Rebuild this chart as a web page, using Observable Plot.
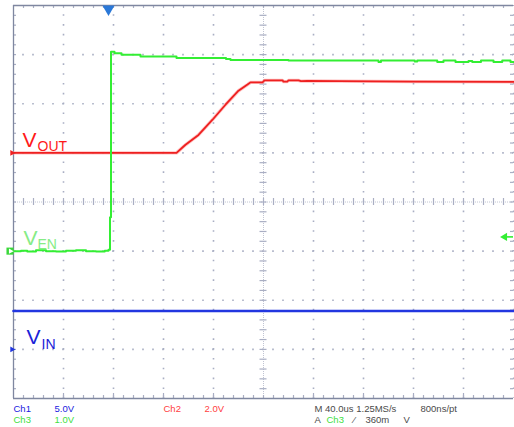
<!DOCTYPE html>
<html>
<head>
<meta charset="utf-8">
<script src="https://cdn.jsdelivr.net/npm/d3@7"></script>
<script src="https://cdn.jsdelivr.net/npm/@observablehq/plot@0.6"></script>
<style>
  html, body { margin: 0; padding: 0; background: #fff; }
  #chart svg { display: block; }
</style>
</head>
<body>
<div id="chart"></div>
<script>
// ---- Data (time in µs, 40 µs/div, voltages in V) ----
// Ch3 (V_EN), 1 V/div, ground at -1 div
const enTime = [-200, -194, -189, -182, -174, -166, -158, -150, -142, -134, -127, -124, -122.8, -122, -121.6, -119.2, -113.6, -99.2, -98.4, -70.4, -69.6, -34.4, -30, -26.4, 20, 92, 94, 121, 123, 139, 144, 153.6, 164, 167, 174, 184, 191, 197.6, 200];
const enVolt = [0.00, 0.01, -0.01, 0.02, 0.00, -0.01, 0.01, 0.02, 0.00, -0.01, 0.01, 0.03, 0.69, 4.06, 4.06, 4.03, 4.00, 4.00, 3.96, 3.96, 3.93, 3.93, 3.91, 3.89, 3.88, 3.85, 3.88, 3.86, 3.88, 3.85, 3.88, 3.85, 3.87, 3.85, 3.88, 3.85, 3.88, 3.85, 3.85];
// Ch2 (V_OUT), 2 V/div, ground at +1 div
const outTime = [-200, -69.6, -62.4, -52, -40.8, -30.4, -20, -12.8, -10.4, -0.8, 0.8, 15.2, 16, 19, 20, 28, 30, 35, 60, 120, 200];
const outVolt = [0.00, 0.00, 0.33, 0.73, 1.35, 1.96, 2.53, 2.78, 2.87, 2.87, 2.95, 2.95, 2.90, 2.90, 2.95, 2.95, 2.92, 2.93, 2.92, 2.90, 2.89];
// Ch1 (V_IN), 5 V/div, ground at -3 div
const inTime = [-200, 200];
const inVolt = [3.9, 3.9];

// channel settings: volts per division and ground offset (div)
const chScale = {ch1: 5, ch2: 2, ch3: 1};
const chGround = {ch1: -3, ch2: 1, ch3: -1};
const trigTime = -124;      // µs
const trigLevel = 0.29;     // V on Ch3

const toDiv = (ch, v) => chGround[ch] + v / chScale[ch];
const en = enTime.map((t, i) => ({t, y: toDiv("ch3", enVolt[i])}));
const out = outTime.map((t, i) => ({t, y: toDiv("ch2", outVolt[i])}));
const vin = inTime.map((t, i) => ({t, y: toDiv("ch1", inVolt[i])}));

// ---- grid helpers ----
const gridC = "#a9aec3";
const majorX = d3.range(-160, 161, 40).filter(v => v !== 0);
const majorY = d3.range(-3, 4, 1).filter(v => v !== 0);
const minorX = d3.range(-192, 193, 8);
const minorY = d3.range(-3.8, 3.81, 0.2).map(v => +v.toFixed(2));
const pxX = 0.8, pxY = 1 / 49.1;

const green = "#33ee33", red = "#ee2020", blue = "#2236e0";

const chart = Plot.plot({
  width: 514,
  height: 427,
  marginLeft: 13,
  marginRight: 1,
  marginTop: 5,
  marginBottom: 29,
  x: {domain: [-200, 200], axis: null},
  y: {domain: [-4, 4], axis: null},
  style: {background: "#fff", fontFamily: "Liberation Sans, Arial, sans-serif"},
  marks: [
    // dotted major grid
    Plot.ruleX(majorX, {y1: -4, y2: 4, stroke: gridC, strokeWidth: 1.6, strokeDasharray: "1.6,8.22", strokeDashoffset: 0.8}),
    Plot.ruleY(majorY, {x1: -200, x2: 200, stroke: gridC, strokeWidth: 1.6, strokeDasharray: "1.6,8.4", strokeDashoffset: 0.8}),
    // center axes
    Plot.ruleX([0], {y1: -4, y2: 4, stroke: "#c0c4d2", strokeWidth: 1, strokeDasharray: "1,1"}),
    Plot.ruleY([0], {x1: -200, x2: 200, stroke: "#c0c4d2", strokeWidth: 1, strokeDasharray: "1,1"}),
    Plot.ruleX(minorX, {y1: -3.5 * pxY, y2: 3.5 * pxY, stroke: gridC, strokeWidth: 1.2}),
    Plot.ruleY(minorY, {x1: -3.5 * pxX, x2: 3.5 * pxX, stroke: gridC, strokeWidth: 1.2}),
    // border ticks
    Plot.ruleX(minorX, {y1: 4, y2: 4 - 3 * pxY, stroke: gridC, strokeWidth: 1.2}),
    Plot.ruleX(minorX, {y1: -4, y2: -4 + 3 * pxY, stroke: gridC, strokeWidth: 1.2}),
    Plot.ruleX(majorX, {y1: -4, y2: -4 + 5 * pxY, stroke: gridC, strokeWidth: 1.2}),
    Plot.ruleY(minorY, {x1: -200, x2: -200 + 3 * pxX, stroke: gridC, strokeWidth: 1.2}),
    Plot.ruleY(minorY, {x1: 200 - 3 * pxX, x2: 200, stroke: gridC, strokeWidth: 1.2}),
    Plot.ruleX([200], {y1: -4, y2: 4, stroke: gridC, strokeWidth: 1.2, strokeDasharray: "1.6,8.22", strokeDashoffset: 0.8}),
    // solid border lines
    Plot.ruleY([4, -4], {x1: -200, x2: 200, stroke: "#7f87a0", strokeWidth: 1.3}),
    Plot.ruleX([-200], {y1: -4, y2: 4, stroke: "#7f87a0", strokeWidth: 1.3}),

    // traces
    Plot.line(vin, {x: "t", y: "y", stroke: blue, strokeWidth: 2.6}),
    Plot.line(out, {x: "t", y: "y", stroke: "#ff9a9a", strokeWidth: 3.4, strokeOpacity: 0.6}),
    Plot.line(out, {x: "t", y: "y", stroke: red, strokeWidth: 1.8}),
    Plot.line(en, {x: "t", y: "y", stroke: green, strokeWidth: 2, curve: "step-after"}),

    // markers: trigger position (top), trigger level (right), ground markers (left)
    Plot.dot([trigTime], {x: d => d, y: 4, dy: 3.5, symbol: "triangle", rotate: 180, r: 4.5, fill: "#2a78d8", stroke: null}),
    Plot.ruleY([toDiv("ch3", trigLevel)], {x1: 193, x2: 200, stroke: green, strokeWidth: 1.6}),
    Plot.dot([toDiv("ch3", trigLevel)], {x: 193, y: d => d, symbol: "triangle", rotate: -90, r: 3, fill: green, stroke: null}),
    Plot.dot([chGround.ch2], {x: -200, y: d => d, dx: -1.5, symbol: "triangle", rotate: 90, r: 2.2, fill: red, stroke: null}),
    Plot.dot([chGround.ch1], {x: -200, y: d => d, dx: -1.5, symbol: "triangle", rotate: 90, r: 2.2, fill: blue, stroke: null}),
    Plot.dot([chGround.ch3], {x: -200, y: d => d, dx: -3.5, symbol: "square", r: 4, fill: "#3ad83a", stroke: null}),
    Plot.dot([chGround.ch3], {x: -200, y: d => d, dx: -3, symbol: "triangle", rotate: 90, r: 2, fill: "#fff", stroke: null}),

    // channel labels
    Plot.text(["V"], {x: -192.8, y: 1.122, text: d => d, textAnchor: "start", lineAnchor: "bottom", fontSize: 21, fill: "#ff1a1a"}),
    Plot.text(["OUT"], {x: -180.8, y: 1.041, text: d => d, textAnchor: "start", lineAnchor: "bottom", fontSize: 14, fill: "#ff1a1a"}),
    Plot.text(["V"], {x: -192, y: -0.878, text: d => d, textAnchor: "start", lineAnchor: "bottom", fontSize: 21, fill: "#86ec86"}),
    Plot.text(["EN"], {x: -180.8, y: -0.959, text: d => d, textAnchor: "start", lineAnchor: "bottom", fontSize: 14, fill: "#86ec86"}),
    Plot.text(["V"], {x: -189.6, y: -2.898, text: d => d, textAnchor: "start", lineAnchor: "bottom", fontSize: 21, fill: "#1a22d8"}),
    Plot.text(["IN"], {x: -177.6, y: -3.0, text: d => d, textAnchor: "start", lineAnchor: "bottom", fontSize: 14, fill: "#1a22d8"}),

    // status line
    Plot.text(["Ch1"], {x: -200, y: -4.265, text: d => d, textAnchor: "start", lineAnchor: "bottom", fontSize: 9.5, fill: "#2020e0"}),
    Plot.text([`${chScale.ch1}.0V`], {x: -167.2, y: -4.265, text: d => d, textAnchor: "start", lineAnchor: "bottom", fontSize: 9.5, fill: "#2020e0"}),
    Plot.text(["Ch3"], {x: -200, y: -4.49, text: d => d, textAnchor: "start", lineAnchor: "bottom", fontSize: 9.5, fill: "#40e040"}),
    Plot.text([`${chScale.ch3}.0V`], {x: -167.2, y: -4.49, text: d => d, textAnchor: "start", lineAnchor: "bottom", fontSize: 9.5, fill: "#40e040"}),
    Plot.text(["Ch2"], {x: -80, y: -4.265, text: d => d, textAnchor: "start", lineAnchor: "bottom", fontSize: 9.5, fill: "#ff4040"}),
    Plot.text([`${chScale.ch2}.0V`], {x: -47.2, y: -4.265, text: d => d, textAnchor: "start", lineAnchor: "bottom", fontSize: 9.5, fill: "#ff4040"}),
    Plot.text(["M 40.0us 1.25MS/s"], {x: 40.8, y: -4.265, text: d => d, textAnchor: "start", lineAnchor: "bottom", fontSize: 9.5, fill: "#4a4a4a"}),
    Plot.text(["800ns/pt"], {x: 125.6, y: -4.265, text: d => d, textAnchor: "start", lineAnchor: "bottom", fontSize: 9.5, fill: "#4a4a4a"}),
    Plot.text(["A"], {x: 40.8, y: -4.49, text: d => d, textAnchor: "start", lineAnchor: "bottom", fontSize: 9.5, fill: "#4a4a4a"}),
    Plot.text(["Ch3"], {x: 50.4, y: -4.49, text: d => d, textAnchor: "start", lineAnchor: "bottom", fontSize: 9.5, fill: "#40e040"}),
    Plot.text(["⁄"], {x: 72, y: -4.49, text: d => d, textAnchor: "start", lineAnchor: "bottom", fontSize: 9.5, fill: "#4a4a4a"}),
    Plot.text(["360m"], {x: 81.6, y: -4.49, text: d => d, textAnchor: "start", lineAnchor: "bottom", fontSize: 9.5, fill: "#4a4a4a"}),
    Plot.text(["V"], {x: 112, y: -4.49, text: d => d, textAnchor: "start", lineAnchor: "bottom", fontSize: 9.5, fill: "#4a4a4a"})
  ]
});
document.getElementById("chart").append(chart);
</script>
</body>
</html>
